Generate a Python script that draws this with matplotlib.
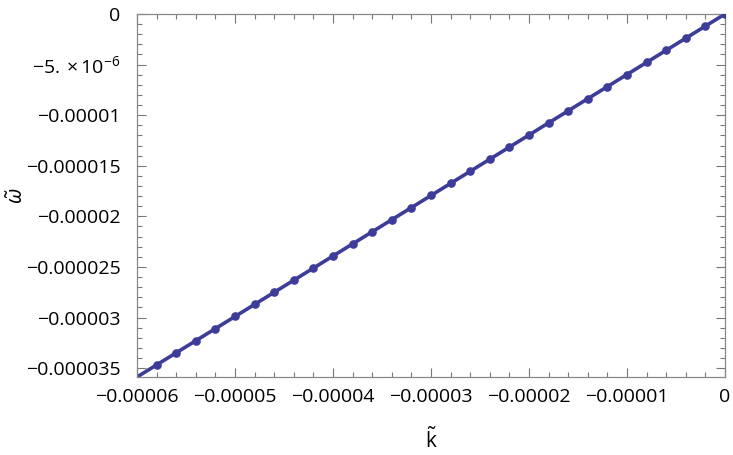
import matplotlib
matplotlib.use("Agg")
import matplotlib.pyplot as plt
from matplotlib.ticker import MultipleLocator, FixedLocator

# Data
k_points = [-58e-6, -56e-6, -54e-6, -52e-6, -50e-6, -48e-6, -46e-6, -44e-6,
            -42e-6, -40e-6, -38e-6, -36e-6, -34e-6, -32e-6, -30e-6, -28e-6,
            -26e-6, -24e-6, -22e-6, -20e-6, -18e-6, -16e-6, -14e-6, -12e-6,
            -10e-6, -8e-6, -6e-6, -4e-6, -2e-6, 0.0]
w_points = [-34.68e-6, -33.49e-6, -32.29e-6, -31.10e-6, -29.90e-6, -28.70e-6,
            -27.51e-6, -26.31e-6, -25.12e-6, -23.92e-6, -22.72e-6, -21.53e-6,
            -20.33e-6, -19.14e-6, -17.94e-6, -16.74e-6, -15.55e-6, -14.35e-6,
            -13.16e-6, -11.96e-6, -10.76e-6, -9.57e-6, -8.37e-6, -7.18e-6,
            -5.98e-6, -4.78e-6, -3.59e-6, -2.39e-6, -1.20e-6, 0.0]
k_line = [-60e-6, 0.0]
w_line = [-35.88e-6, 0.0]

x_ticks = [-60e-6, -50e-6, -40e-6, -30e-6, -20e-6, -10e-6, 0.0]
x_labels = ["\u22120.00006", "\u22120.00005", "\u22120.00004", "\u22120.00003",
            "\u22120.00002", "\u22120.00001", "0"]
y_ticks = [0.0, -5e-6, -10e-6, -15e-6, -20e-6, -25e-6, -30e-6, -35e-6]
y_labels = ["0", "$\\mathregular{\u22125.\\times10^{-6}}$", "\u22120.00001", "\u22120.000015",
            "\u22120.00002", "\u22120.000025", "\u22120.00003", "\u22120.000035"]

plt.rcParams['font.family'] = ['Open Sans', 'DejaVu Sans']
plt.rcParams['mathtext.fontset'] = 'custom'
plt.rcParams['mathtext.rm'] = 'Open Sans'
plt.rcParams['mathtext.it'] = 'Open Sans:italic'

color = '#3d3c99'
fig = plt.figure(figsize=(7.33, 4.55), dpi=100)
ax = fig.add_axes([137/733, 1-377/455, (725-137)/733, (377-14)/455])

ax.plot(k_line, w_line, color=color, lw=2.6, solid_capstyle='butt', zorder=2)
ax.plot(k_points, w_points, 'o', color=color, ms=5.2, zorder=3)

ax.set_xlim(-60e-6, 0)
ax.set_ylim(w_line[0], 0)

ax.xaxis.set_major_locator(FixedLocator(x_ticks))
ax.set_xticklabels(x_labels)
ax.yaxis.set_major_locator(FixedLocator(y_ticks))
ax.set_yticklabels(y_labels)
ax.xaxis.set_minor_locator(MultipleLocator(2e-6))
ax.yaxis.set_minor_locator(MultipleLocator(1e-6))

for s in ax.spines.values():
    s.set_color('#888888')
    s.set_linewidth(0.9)
ax.tick_params(which='both', direction='in', top=True, right=True,
               color='#777777', width=0.8, labelsize=14, labelcolor='black')
ax.tick_params(which='major', length=6.5)
ax.tick_params(which='minor', length=3.5)
ax.tick_params(axis='y', which='major', pad=12)
ax.tick_params(axis='x', which='major', pad=8)

ax.set_xlabel("$\\tilde{\\mathregular{k}}$", fontsize=15, va='center')
ax.xaxis.set_label_coords(0.5, -(440-377)/363)
ax.set_ylabel("$\\tilde{\\omega}$", fontsize=15, va='center')
ax.yaxis.set_label_coords(-(137-17)/588, 0.5)

fig.savefig("out.png", dpi=100)
